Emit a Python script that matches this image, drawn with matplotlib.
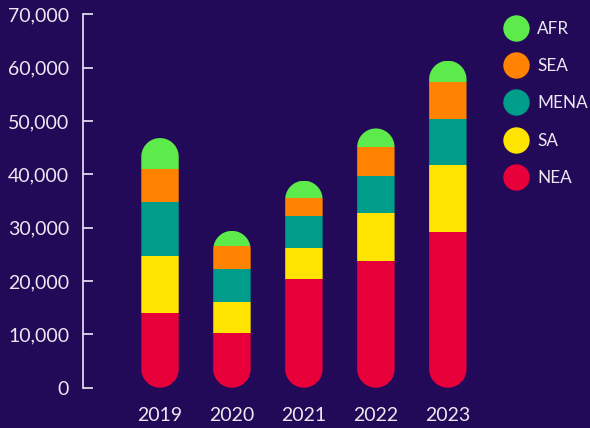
import numpy as np
import matplotlib
matplotlib.use("Agg")
import matplotlib.pyplot as plt
from matplotlib.patches import Polygon
from matplotlib.lines import Line2D
from matplotlib.ticker import FuncFormatter

years = ["2019", "2020", "2021", "2022", "2023"]
regions = ["NEA", "SA", "MENA", "SEA", "AFR"]
nea = [14000, 10300, 20400, 23800, 29200]
sa = [10700, 5800, 5800, 9000, 12600]
mena = [10100, 6200, 6000, 6900, 8600]
sea = [6200, 4300, 3400, 5400, 6900]
afr = [5800, 2800, 3200, 3500, 4000]
colors = {"NEA": "#e8003a", "SA": "#ffe400", "MENA": "#009d8a",
          "SEA": "#ff8200", "AFR": "#5deb4b"}

bg = "#230a59"
txt = "#ece8f2"
plt.rcParams['font.family'] = ['Lato', 'DejaVu Sans']

fig = plt.figure(figsize=(5.9, 4.28), dpi=100, facecolor=bg)
ax = fig.add_axes([0.1407, 0.0942, 0.6915, 0.8724], facecolor=bg)
ax.set_xlim(-1.07, 4.6)
ax.set_ylim(0, 70000)

# y data units per x data unit on screen, so the ends come out as half circles
pos = ax.get_position()
w_px = pos.width * 590
h_px = pos.height * 428
aspect = (70000 / h_px) / (5.67 / w_px)

x = np.arange(len(years))
width = 0.52
series = [nea, sa, mena, sea, afr]
totals = np.sum(series, axis=0)

bottom = np.zeros(len(years))
bar_sets = []
for name, vals in zip(regions, series):
    bars = ax.bar(x, vals, width, bottom=bottom, color=colors[name], linewidth=0)
    bar_sets.append(bars)
    bottom += np.array(vals)

def pill(xc, top, w):
    rx = w / 2
    ry = rx * aspect
    t = np.linspace(0, np.pi, 40)
    top_arc = np.column_stack([xc + rx * np.cos(t), top - ry + ry * np.sin(t)])
    bot_arc = np.column_stack([xc - rx * np.cos(t), ry - ry * np.sin(t)])
    return np.vstack([top_arc, bot_arc])

for i in range(len(years)):
    clip = Polygon(pill(x[i], totals[i], width), closed=True,
                   facecolor="none", edgecolor="none")
    ax.add_patch(clip)
    for bars in bar_sets:
        bars[i].set_clip_path(clip)

ax.set_xticks(x)
ax.set_xticklabels(years)
ax.set_yticks(np.arange(0, 70001, 10000))
ax.yaxis.set_major_formatter(FuncFormatter(lambda v, p: f"{int(v):,}"))
for s in ["top", "right", "bottom"]:
    ax.spines[s].set_visible(False)
ax.spines["left"].set_color(txt)
ax.spines["left"].set_linewidth(1.2)
ax.tick_params(axis="y", direction="in", length=7.5, width=1.2, color=txt,
               labelcolor=txt, labelsize=14, pad=10)
ax.tick_params(axis="x", length=0, labelcolor=txt, labelsize=14, pad=14)

handles = [Line2D([], [], marker="o", linestyle="none", markersize=19,
                  markerfacecolor=colors[r], markeredgecolor="none")
           for r in regions[::-1]]
fig.legend(handles, regions[::-1], loc="upper left", bbox_to_anchor=(0.832, 0.98),
           frameon=False, fontsize=12.3, labelcolor=txt, labelspacing=1.25,
           handletextpad=0.5, borderaxespad=0.3, handlelength=1.5)

fig.savefig("out.png", dpi=100, facecolor=bg)
